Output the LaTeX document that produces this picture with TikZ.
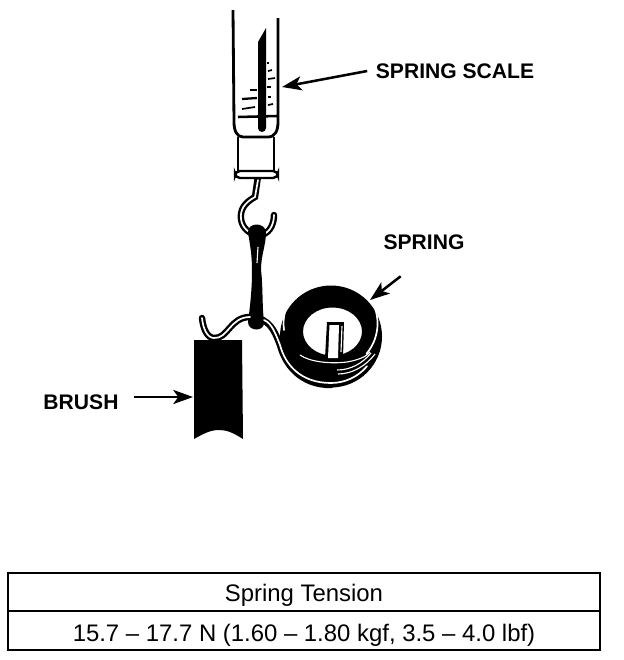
\documentclass[tikz,border=0pt]{standalone}
\usepackage{fontspec}
\setmainfont{Liberation Sans}
\usetikzlibrary{positioning}
\usetikzlibrary{arrows.meta}
\tikzset{
	wire/.style={black,line width=4.6pt,line cap=round},
	wirecore/.style={white,line width=1.2pt,line cap=round},
	thinlight/.style={white,line width=0.8pt},
	outline/.style={black,line width=1.7pt},
	tick/.style={black,line width=1.2pt},
	calllabel/.style={font=\fontsize{15}{17}\selectfont\bfseries,inner sep=6pt},
	callarrow/.style={black,line width=1.8pt,-{Stealth[length=14pt,width=10pt,inset=3.5pt]}},
	tablecell/.style={draw,line width=1.3pt,minimum width=592*0.025cm,minimum height=38.5*0.025cm,inner sep=0pt,text depth=0pt,font=\fontsize{17}{19}\selectfont}
}
\begin{document}
\begin{tikzpicture}[x=0.025cm,y=-0.025cm]
	\useasboundingbox (0,0) rectangle (624,660);
	% spring scale
	\draw[outline,line width=2pt] (233,10) -- (234,122) .. controls (234,131) and (237,137) .. (243,137) -- (268,137) .. controls (275,137) and (278,131) .. (278,122) -- (278,18);
	\fill[black] (258,128) -- (258,42) -- (266,28) -- (266,128) arc (0:180:4) -- cycle;
	\draw[tick] (267,63) -- (269,63);
	\draw[tick] (268,71) -- (272,70);
	\draw[tick] (268,79) -- (275,78);
	\draw[tick,line width=2pt] (267,87) -- (271,87);
	\draw[tick] (268,97) -- (271,97);
	\draw[tick] (268,105) -- (273,104);
	\draw[tick] (250,90) -- (257,90);
	\draw[tick,line width=1.6pt] (242,99) -- (257,98);
	\draw[tick] (242,109) -- (255,107);
	\draw[tick,line width=1.8pt] (238,117) -- (277,116);
	\draw[outline] (238,137) -- (238,171);
	\draw[outline] (274,137) -- (274,171);
	% hook
	\draw[wire] (258,176) -- (255,197) .. controls (244,203) and (240,210) .. (241,219) .. controls (242,228) and (250,235) .. (259,235) .. controls (268,235) and (274,226) .. (274,215);
	\draw[wirecore] (258,180) -- (255,197) .. controls (244,203) and (240,210) .. (241,219) .. controls (242,228) and (250,235) .. (259,235) .. controls (268,235) and (274,226) .. (274,215);
	\draw[outline,fill=white,rounded corners=3.5pt] (235,171) rectangle (278,178);
	% link
	\fill[black] (248,232) .. controls (248,222) and (265,222) .. (266,232) .. controls (266,245) and (261,255) .. (261,270) .. controls (263,285) and (262,305) .. (264,322) .. controls (265,332) and (248,332) .. (248,322) .. controls (251,300) and (252,285) .. (252,270) .. controls (252,255) and (250,245) .. (248,232) -- cycle;
	\draw[thinlight] (258,247) -- (257,263);
	% brush
	\fill[black] (194,340) -- (242,340) -- (243,439) .. controls (232,432) and (226,430) .. (219,430) .. controls (210,430) and (203,434) .. (194,439) -- cycle;
	% spring
	\fill[black,even odd rule] (331,336.5) circle (51) (332.5,331.5) ellipse (29.5 and 24);
	\draw[wire] (202,318) .. controls (203,328) and (207,338) .. (214,338) .. controls (228,339) and (230,317) .. (250,317);
	\draw[wirecore] (202,318) .. controls (203,328) and (207,338) .. (214,338) .. controls (228,339) and (230,317) .. (250,317);
	\draw[wire] (258,318) .. controls (272,322) and (276,335) .. (280,345) .. controls (285,364) and (300,385) .. (331,385);
	\draw[wirecore] (264,320) .. controls (272,323) and (276,335) .. (280,345) .. controls (285,364) and (300,383) .. (331,383) arc (90:40:47);
	\draw[wirecore] (284,330) arc (172:360:47) arc (0:40:47);
	\draw[thinlight] (300,355) .. controls (310,362) and (330,364) .. (347,362) .. controls (358,360) and (366,357) .. (370,352);
	\draw[thinlight] (337,370) .. controls (350,370) and (362,364) .. (371,353);
	\draw[thinlight] (338,374) .. controls (352,374) and (366,366) .. (375,354);
	% post
	\fill[black] (325,358) -- (327,322) -- (344,322) -- (343,358) -- cycle;
	\fill[white] (328,358) -- (329.5,325) -- (339,325) -- (338,358) -- cycle;
	\draw[thinlight] (342,326) -- (341,352);
	% callouts
	\node[calllabel] (lblscale) at (455,71) {SPRING SCALE};
	\coordinate (scaletip) at (282,87);
	\draw[callarrow] (lblscale.west) -- (scaletip);
	\node[calllabel] (lblspring) at (424,242) {SPRING};
	\coordinate (springtip) at (370,300);
	\draw[callarrow,shorten <=21] (lblspring.south) -- (springtip);
	\node[calllabel] (lblbrush) at (81,402) {BRUSH};
	\coordinate (brushtip) at (193,397);
	\draw[callarrow,shorten <=5] (lblbrush.east |- brushtip) -- (brushtip);
	% table
	\node[tablecell,text height=13pt] (tblhead) at (304,592) {Spring Tension};
	\node[tablecell,text height=15pt,below=-1.3pt of tblhead] (tblvalue) {15.7 -- 17.7 N (1.60 -- 1.80 kgf, 3.5 -- 4.0 lbf)};
\end{tikzpicture}
\end{document}
